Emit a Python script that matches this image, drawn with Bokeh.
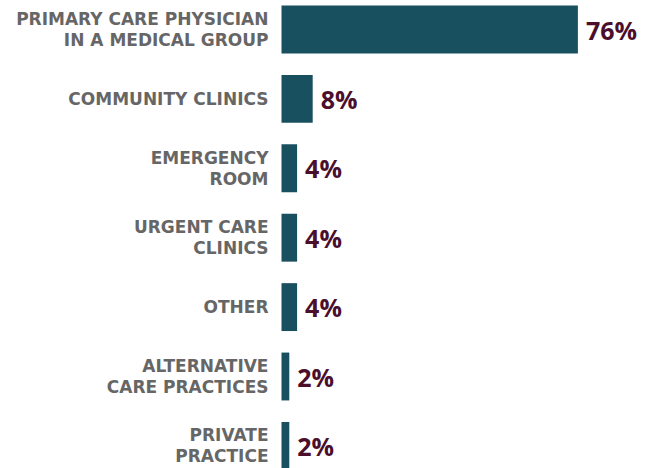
from bokeh.plotting import figure
from bokeh.models import ColumnDataSource, Range1d
from bokeh.core.properties import value
from bokeh.embed import file_html
from bokeh.resources import INLINE

categories = [
    "PRIMARY CARE PHYSICIAN\nIN A MEDICAL GROUP",
    "COMMUNITY CLINICS",
    "EMERGENCY\nROOM",
    "URGENT CARE\nCLINICS",
    "OTHER",
    "ALTERNATIVE\nCARE PRACTICES",
    "PRIVATE\nPRACTICE",
]
values = [76, 8, 4, 4, 4, 2, 2]
value_labels = [f"{v}%" for v in values]
positions = list(range(len(categories)))

source = ColumnDataSource(dict(
    cat=categories, val=values, vlab=value_labels, pos=positions,
    zero=[0] * len(values),
))

p = figure(width=649, height=468, output_backend="svg", toolbar_location=None,
           x_range=Range1d(-72.05, 94.36), y_range=Range1d(6.3256, -0.4179),
           min_border=0)
p.axis.visible = False
p.grid.visible = False
p.outline_line_color = None
p.background_fill_color = "white"
p.border_fill_color = "white"

p.hbar(y="pos", right="val", left=0, height=0.69, source=source,
       fill_color="#19505f", line_color=None)

p.text(x="zero", y="pos", text="cat", source=source, x_offset=-13,
       text_align="right", text_baseline="middle",
       text_font=value("DejaVu Sans"), text_font_style="bold",
       text_font_size="17px", text_color="#666666", text_line_height=1.06)

p.text(x="val", y="pos", text="vlab", source=source, x_offset=8,
       text_align="left", text_baseline="middle",
       text_font=value("Open Sans"), text_font_style="bold",
       text_font_size="25px", text_color="#4b0f2c")

open("out.html", "w").write(file_html(p, INLINE))
